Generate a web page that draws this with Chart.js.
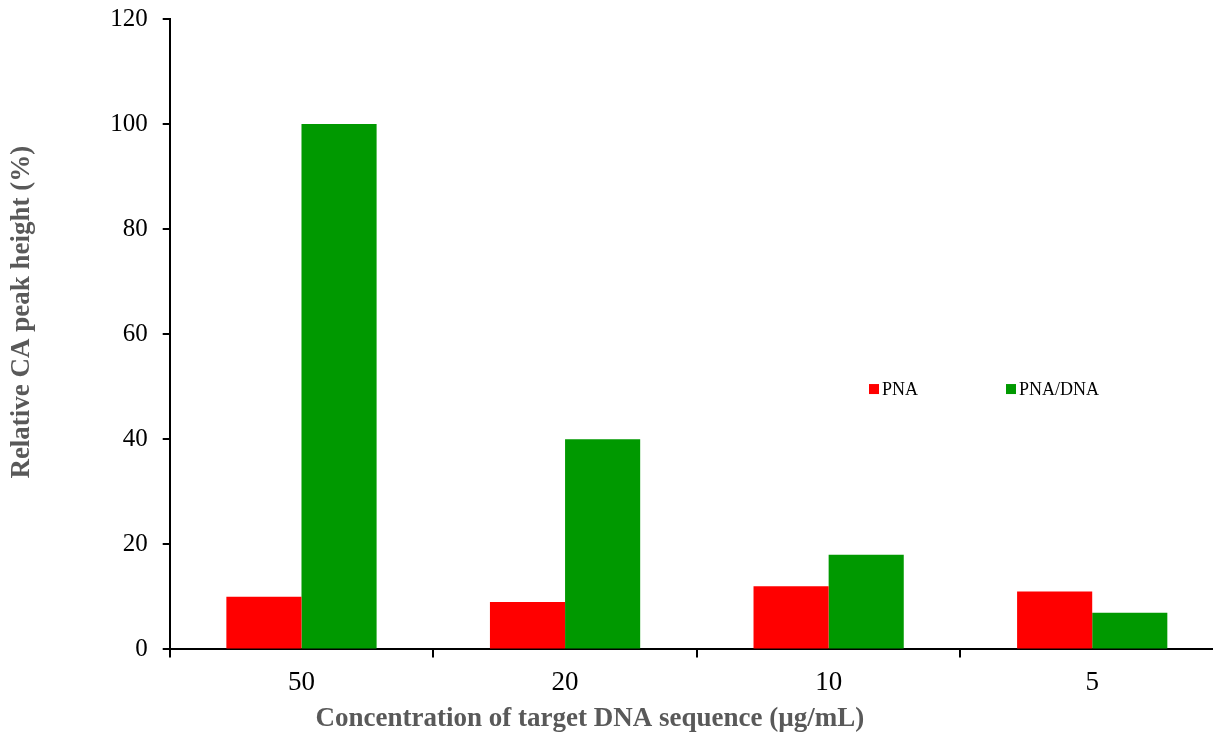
<!DOCTYPE html>
<html lang="en">
<head>
  <meta charset="UTF-8">
  <title>Relative CA peak height</title>
  <script src="https://cdn.jsdelivr.net/npm/chart.js"></script>
  <style>
    * { box-sizing: border-box; margin:0; padding:0; }
    html, body { width:1213px; height:733px; overflow:hidden; background:#fff; }
    #wrap { width:1224px; height:733px; }
  </style>
</head>
<body>
<div id="wrap"><canvas id="grafica"></canvas></div>
<script>
const categorias = ['50', '20', '10', '5'];
const valoresPNA = [10, 9, 12, 11];
const valoresPNADNA = [100, 40, 18, 7];
const ticksY = [0, 20, 40, 60, 80, 100, 120];
const tituloX = 'Concentration of target DNA sequence (µg/mL)';
const tituloY = 'Relative CA peak height (%)';

const serif = "'Liberation Serif', 'Times New Roman', serif";

// leyenda dentro del area + titulos de ejes desplazados como en el original
const extras = {
  id: 'extras',
  afterDraw(chart) {
    const { ctx, chartArea } = chart;
    const w = chartArea.right - chartArea.left, h = chartArea.bottom - chartArea.top;
    const y = chartArea.top + h * 0.587;
    const items = [
      { x: 869, label: 'PNA', color: '#ff0000' },
      { x: 1006, label: 'PNA/DNA', color: '#009900' }
    ];
    ctx.save();
    ctx.font = '18px ' + serif;
    ctx.textBaseline = 'middle';
    items.forEach(it => {
      ctx.fillStyle = it.color;
      ctx.fillRect(it.x, y - 5, 10, 10);
      ctx.fillStyle = '#000';
      ctx.fillText(it.label, it.x + 13, y + 1);
    });

    ctx.fillStyle = '#595959';
    ctx.font = 'bold 27px ' + serif;
    ctx.textAlign = 'center';
    ctx.fillText(tituloX, chartArea.left + w * 0.3985, chartArea.bottom + 70);

    ctx.translate(22, chartArea.top + h * 0.465);
    ctx.rotate(-Math.PI / 2);
    ctx.fillText(tituloY, 0, 0);
    ctx.restore();
  }
};

new Chart(document.getElementById('grafica'), {
  type: 'bar',
  data: {
    labels: categorias,
    datasets: [
      { label: 'PNA', data: valoresPNA, backgroundColor: '#ff0000' },
      { label: 'PNA/DNA', data: valoresPNADNA, backgroundColor: '#009900' }
    ]
  },
  options: {
    responsive: true,
    maintainAspectRatio: false,
    animation: false,
    layout: { padding: { top: 19, right: 0, left: 4, bottom: 0 } },
    plugins: { legend: { display: false }, tooltip: { enabled: false } },
    datasets: { bar: { categoryPercentage: 0.57, barPercentage: 1.0 } },
    scales: {
      x: {
        offset: true,
        border: { color: '#000', width: 2 },
        grid: { offset: true, drawOnChartArea: false, drawTicks: true, tickLength: 8, color: '#000', lineWidth: 2 },
        ticks: { color: '#000', font: { family: serif, size: 27 }, padding: 9 },
        // solo reserva el espacio, el texto se pinta en el plugin
        title: { display: true, text: tituloX, color: 'rgba(0,0,0,0)',
                 font: { family: serif, size: 26, weight: 'bold' }, padding: { top: -6, bottom: 0 } }
      },
      y: {
        min: 0, max: 120,
        afterBuildTicks: s => { s.ticks = ticksY.map(v => ({ value: v })); },
        afterFit: s => { s.paddingTop = 0; s.paddingBottom = 0; },
        border: { color: '#000', width: 2 },
        grid: { drawOnChartArea: false, drawTicks: true, tickLength: 7, color: '#000', lineWidth: 2 },
        ticks: { color: '#000', font: { family: serif, size: 25 }, padding: 15 },
        title: { display: true, text: tituloY, color: 'rgba(0,0,0,0)',
                 font: { family: serif, size: 26, weight: 'bold' }, padding: { top: 4, bottom: 56 } }
      }
    }
  },
  plugins: [extras]
});
</script>
</body>
</html>
